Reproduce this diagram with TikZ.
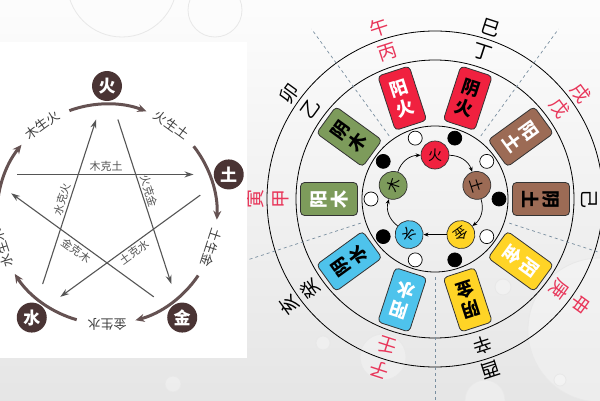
\documentclass[tikz,border=0pt]{standalone}
\usepackage{fontspec}
\newfontfamily\cjk{Noto Sans CJK SC}
\usetikzlibrary{arrows.meta}

\definecolor{huoC}{HTML}{F0213F}
\definecolor{tuC}{HTML}{9C6B55}
\definecolor{jinC}{HTML}{FFD426}
\definecolor{shuiC}{HTML}{4EC3EC}
\definecolor{muC}{HTML}{7D9B5B}
\definecolor{ganzhiR}{HTML}{E8365A}
\definecolor{xingC}{HTML}{4A3434}
\definecolor{keC}{HTML}{555555}
\definecolor{sectC}{HTML}{7A8FA0}

\tikzset{
  xing/.style={circle, fill=xingC, minimum size=30pt, inner sep=0pt, text=white,
    font=\cjk\bfseries\fontsize{17}{17}\selectfont},
  sheng/.style={line width=3pt, draw=xingC!85, -{Stealth[length=9pt,width=8pt]}},
  ke/.style={line width=1.1pt, draw=keC, -{Stealth[length=9pt,width=6pt]},
    shorten <=20pt, shorten >=20pt},
  kelbl/.style={font=\cjk\fontsize{11}{11}\selectfont, text=keC, inner sep=2pt},
  shenglbl/.style={font=\cjk\fontsize{13}{13}\selectfont, text=black!75, inner sep=0pt},
  gua/.style={rectangle, rounded corners=4pt, draw=black!80, line width=0.8pt,
    minimum width=33pt, minimum height=57pt, inner sep=0pt, align=center,
    font=\cjk\bfseries\fontsize{18}{21}\selectfont},
  dian/.style={circle, draw=black, line width=0.7pt, minimum size=14pt, inner sep=0pt},
  wu/.style={circle, draw=black!80, line width=0.7pt, minimum size=28pt, inner sep=0pt,
    font=\cjk\fontsize{14}{14}\selectfont},
  xun/.style={line width=0.7pt, -{Stealth[length=5pt,width=4pt]}},
  zhi/.style={font=\cjk\fontsize{19}{19}\selectfont, inner sep=0pt},
  sector/.style={dashed, draw=sectC, line width=0.7pt},
  droplet/.style={draw=black!9, fill=white, fill opacity=0.3, line width=0.8pt}
}

\begin{document}
\begin{tikzpicture}[x=1pt, y=1pt]
  \useasboundingbox (0,0) rectangle (600,400);
  % фон и капли
  \shade[top color=black!1, bottom color=black!10] (0,0) rectangle (600,400);
  \foreach \x/\y/\r in {122/418/55, 215/390/27, 600/70/72, 383/43/23, 173/16/8,
      323/57/7, 503/113/8, 560/20/6, 485/0/20}
    \draw[droplet] (\x,\y) circle[radius=\r];

  % правая схема: кольца и секторы
  \coordinate (o) at (435,201);
  \draw[line width=0.8pt] (o) circle[radius=168];
  \draw[line width=0.8pt] (o) circle[radius=139];
  \draw[line width=0.8pt] (o) circle[radius=73];
  \foreach \a in {270,342,54,126,198}
    \draw[sector] ([shift={(\a:78)}]o) -- ([shift={(\a:210)}]o);

  % карточки инь-ян
  \foreach \a/\nm/\col/\tc/\up/\dn in {108/yanghuo/huoC/white/阳/火, 72/yinhuo/huoC/black/阴/火,
      36/yangtu/tuC/white/阳/土, 0/yintu/tuC/black/阴/土,
      -36/yangjin/jinC/white/阳/金, -72/yinjin/jinC/black/阴/金,
      252/yangshui/shuiC/white/阳/水, 216/yinshui/shuiC/black/阴/水,
      180/yangmu/muC/white/阳/木, 144/yinmu/muC/black/阴/木}
    \node[gua, fill=\col, text=\tc, rotate=\a-90] (\nm) at ([shift={(\a:106)}]o) {\up\\\dn};

  % точки
  \foreach \a/\col in {108/white, 72/black, 36/white, 0/black, -36/white,
      -72/black, 252/white, 216/black, 180/white, 144/black}
    \node[dian, fill=\col] (d\a) at ([shift={(\a:64)}]o) {};

  % пять стихий внутри
  \foreach \a/\nm/\col/\t in {90/huo/huoC/火, 18/tu/tuC/土, -54/jin/jinC/金,
      -126/shui/shuiC/水, 162/mu/muC/木}
    \node[wu, fill=\col, rotate=\a-90] (w\nm) at ([shift={(\a:44)}]o) {\t};
  \draw[xun] (wmu) to[bend left=35] (whuo);
  \draw[xun] (whuo) to[bend left=35] (wtu);
  \draw[xun] (wtu) to[bend left=35] (wjin);
  \draw[xun] (wjin) -- (wshui);
  \draw[xun] (wshui) to[bend left=35] (wmu);

  % стволы и ветви
  \foreach \a/\out/\inn/\col in {108/午/丙/ganzhiR, 72/巳/丁/black, 36/戌/戊/ganzhiR,
      -36/申/庚/ganzhiR, -72/酉/辛/black, 252/子/壬/ganzhiR, 216/亥/癸/black,
      180/寅/甲/ganzhiR, 144/卯/乙/black}
  {
    \node[zhi, text=\col, rotate=\a-90] (z\a) at ([shift={(\a:180)}]o) {\out};
    \node[zhi, text=\col, rotate=\a-90] (g\a) at ([shift={(\a:154)}]o) {\inn};
  }
  \node[zhi, rotate=-90] (g0) at ([shift={(0:154)}]o) {己};

  % левая схема
  \fill[white] (0,42) rectangle (247,358);
  \coordinate (c) at (107,186);
  \node[xing] (huo) at ([shift={(90:128)}]c) {火};
  \node[xing] (tu) at ([shift={(18:128)}]c) {土};
  \node[xing] (jin) at ([shift={(-54:128)}]c) {金};
  \node[xing] (shui) at ([shift={(-126:128)}]c) {水};
  \coordinate (mu) at ([shift={(162:128)}]c);

  % круг порождения
  \foreach \a in {90,18,-54,-126,162}
    \draw[sheng] ([shift={({\a+20}:110)}]c) arc[start angle=\a+20, end angle=\a-21, radius=110];
  \foreach \a/\t in {126/木生火, 54/火生土, -18/土生金, -90/金生水, -162/水生木}
    \node[shenglbl, rotate=\a-90] (s\a) at ([shift={(\a:110)}]c) {\t};

  % звезда преодоления
  \draw[ke, shorten <=32pt] (mu) -- (tu) node[kelbl, pos=0.53, above] (k1) {木克土};
  \draw[ke] (huo) -- (jin) node[kelbl, pos=0.46, sloped, above] (k2) {火克金};
  \draw[ke] (tu) -- (shui) node[kelbl, midway, sloped, below] (k3) {土克水};
  \draw[ke, shorten >=32pt] (jin) -- (mu) node[kelbl, pos=0.48, sloped, below] (k4) {金克木};
  \draw[ke] (shui) -- (huo) node[kelbl, midway, sloped, above] (k5) {水克火};
\end{tikzpicture}
\end{document}
